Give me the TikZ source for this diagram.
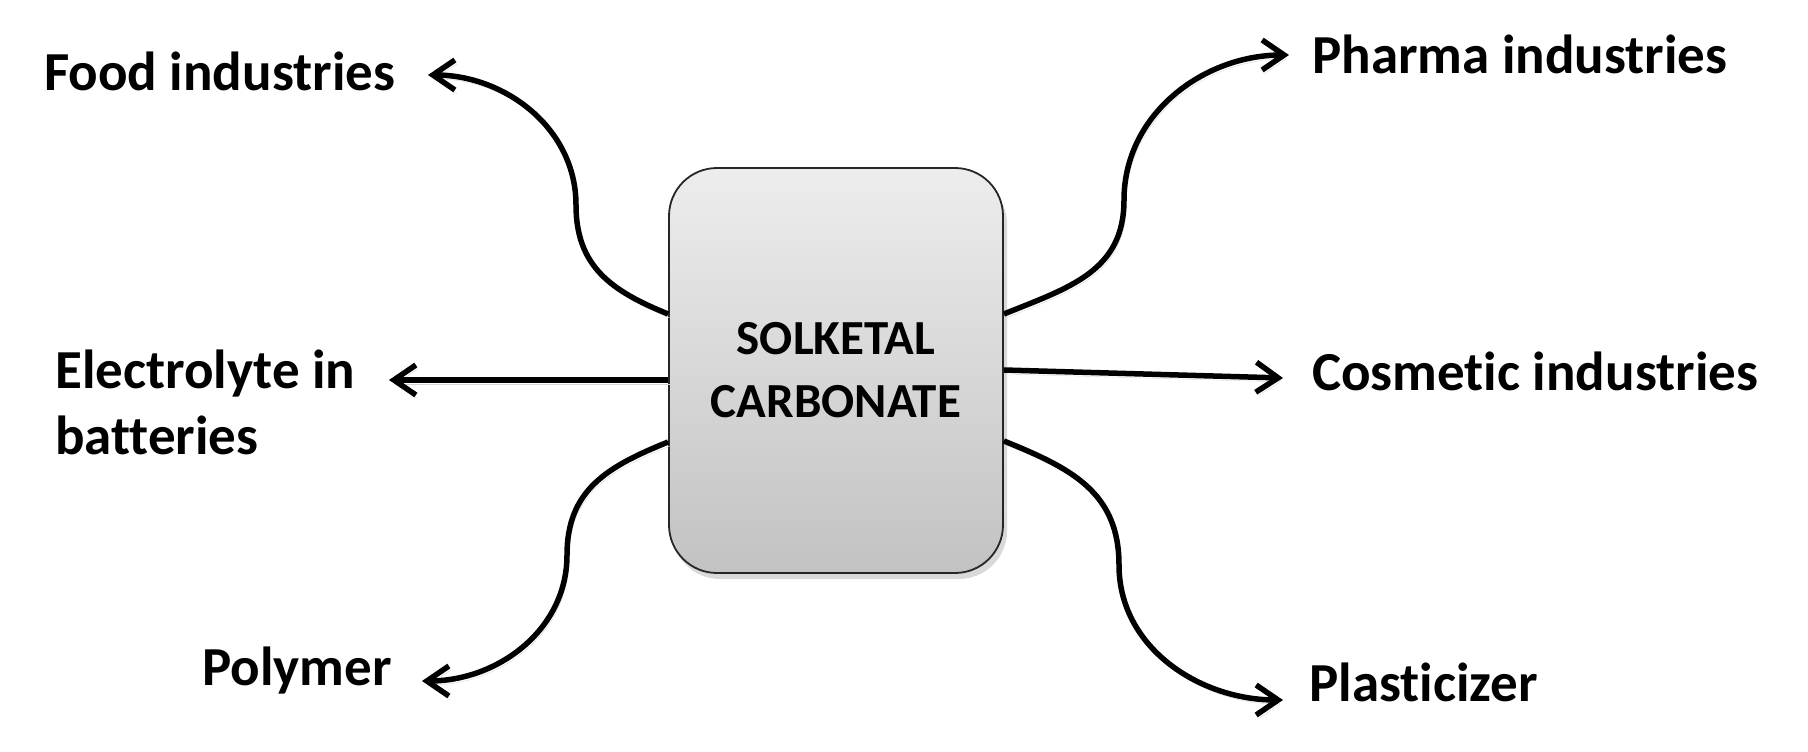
\documentclass[tikz,border=0pt]{standalone}
\usepackage{fontspec}
\setmainfont{Carlito}[Ligatures=NoCommon,RawFeature={-liga;-clig;-dlig}]
\usetikzlibrary{arrows.meta}
\definecolor{boxtop}{HTML}{EDEDED}
\definecolor{boxbot}{HTML}{C2C2C2}
\begin{document}
\begin{tikzpicture}[x=1pt,y=1pt,
  lbl/.style={font=\fontsize{55}{66}\selectfont\bfseries, inner sep=0pt, anchor=base west},
  conn/.style={line width=5.5pt, -{Straight Barb[length=22pt,width=30pt]},
    preaction={draw=black!16, transform canvas={xshift=2pt,yshift=-4pt}}},
  centre/.style={draw=black!85, line width=1.8pt, rounded corners=48pt,
    minimum width=334pt, minimum height=405pt, top color=boxtop, bottom color=boxbot,
    font=\fontsize{49}{63}\selectfont\bfseries, align=center}]
\useasboundingbox (0,0) rectangle (1808,-752);
% shadow of box
\fill[black!15, rounded corners=48pt] (672,-176) rectangle (1007,-579);
\node[centre] (box) at (836,-370.5) {SOLKETAL\\CARBONATE};
% labels
\node[lbl] (food) at (44,-90) {Food industries};
\node[lbl] (pharma) at (1312,-74) {Pharma industries};
\node[lbl, anchor=north west, align=left] (elec) at (55,-350) {Electrolyte in\\batteries};
\node[lbl] (cosm) at (1312,-390) {Cosmetic industries};
\node[lbl] (poly) at (202,-685) {Polymer};
\node[lbl] (plast) at (1309,-701) {Plasticizer};
% arrow tips
\coordinate (ftip) at (428,-75);
\coordinate (ptip) at (1289,-55);
\coordinate (etip) at (389,-380);
\coordinate (ctip) at (1283,-378);
\coordinate (otip) at (422,-681);
\coordinate (stip) at (1283,-700);
% connectors
\draw[conn] ([yshift=56.5pt]box.west) to[out=158,in=-90,looseness=1.1] (576,-205) to[out=90,in=0] (ftip);
\draw[conn] ([yshift=56.5pt]box.east) to[out=22,in=-90,looseness=1.1] (1124,-200) to[out=90,in=180] (ptip);
\draw[conn] ([yshift=-9.5pt]box.west) -- (etip);
\draw[conn] ([yshift=0.5pt]box.east) -- (ctip);
\draw[conn] ([yshift=-71.5pt]box.west) to[out=-158,in=90,looseness=1.1] (567,-555) to[out=-90,in=0] (otip);
\draw[conn] ([yshift=-70.5pt]box.east) to[out=-22,in=90,looseness=1.1] (1119,-565) to[out=-90,in=180] (stip);
\end{tikzpicture}
\end{document}
